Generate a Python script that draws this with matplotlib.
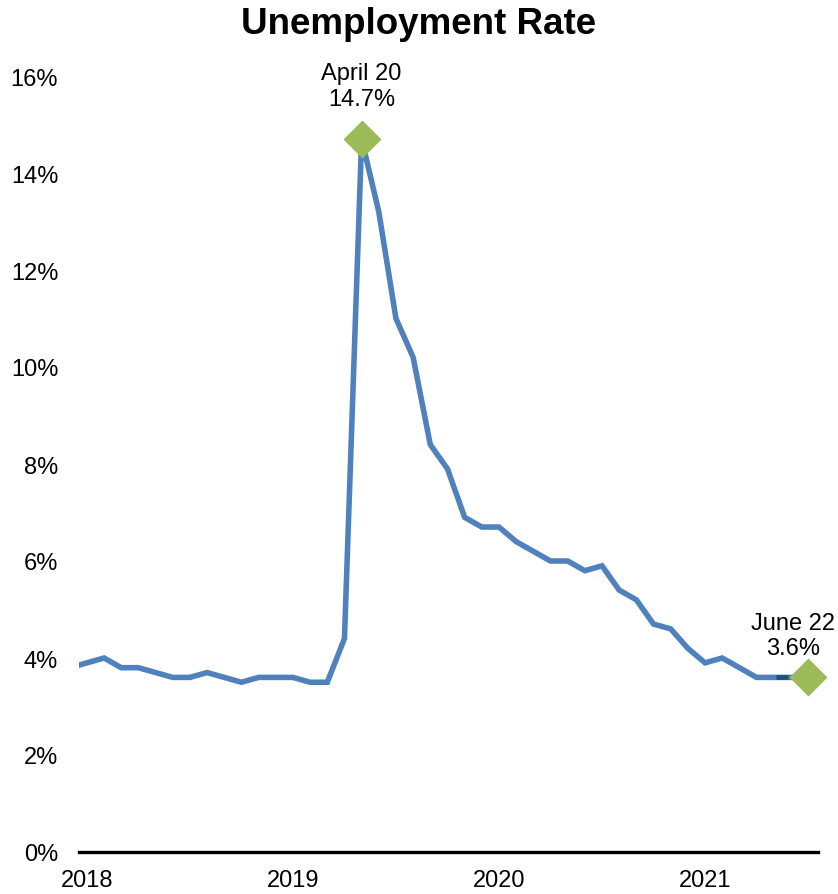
import numpy as np
import matplotlib.pyplot as plt

plt.rcParams['font.family'] = ['Liberation Sans', 'DejaVu Sans']

# Monthly unemployment rate, Nov 2018 .. Jun 2022 (index 0 = Jan 2019)
rates = [3.8, 3.9,
         4.0, 3.8, 3.8, 3.7, 3.6, 3.6, 3.7, 3.6, 3.5, 3.6, 3.6, 3.6,
         3.5, 3.5, 4.4, 14.7, 13.2, 11.0, 10.2, 8.4, 7.9, 6.9, 6.7, 6.7,
         6.4, 6.2, 6.0, 6.0, 5.8, 5.9, 5.4, 5.2, 4.7, 4.6, 4.2, 3.9,
         4.0, 3.8, 3.6, 3.6, 3.6, 3.6]
months = np.arange(len(rates)) - 2

year_ticks = [-1, 11, 23, 35]
year_labels = ['2018', '2019', '2020', '2021']

peak_idx = int(np.argmax(rates))
peak_label = 'April 20'
last_label = 'June 22'

line_color = '#4F81BD'
marker_color = '#9BBB59'

fig = plt.figure(figsize=(8.38, 8.95), dpi=100)
ax = fig.add_axes([79 / 838, 42 / 895, (818 - 79) / 838, (853 - 77) / 895])

ax.plot(months, rates, color=line_color, lw=4, solid_joinstyle='miter', zorder=2)

# short darker stretch on the flat tail
m = months[-3]
ax.plot([m + 0.15, m + 0.85], [rates[-3], rates[-2]], color='#1F4E79', lw=3.4,
        solid_capstyle='butt', zorder=3)

callouts = [(peak_idx, peak_label, (0, 21)),
            (len(rates) - 1, last_label, (-11, 13))]
for i, lab, offset in callouts:
    ax.plot(months[i], rates[i], marker='D', ms=19, color=marker_color,
            mec='none', zorder=4, clip_on=False)
    ax.annotate(f'{lab}\n{rates[i]:.1f}%', (months[i], rates[i]),
                xytext=offset, textcoords='offset points',
                ha='center', va='bottom', fontsize=17, linespacing=1.2)

ax.set_xlim(-1.46, 41.58)
ax.set_ylim(0, 16)
ax.set_yticks(np.arange(0, 17, 2))
ax.set_yticklabels([f'{v}%' for v in range(0, 17, 2)])
ax.set_xticks(year_ticks)
ax.set_xticklabels(year_labels)
ax.tick_params(axis='both', length=0, labelsize=17, colors='black')
ax.tick_params(axis='y', pad=15)
ax.tick_params(axis='x', pad=12)

for side in ['left', 'right', 'top']:
    ax.spines[side].set_visible(False)
ax.spines['bottom'].set_linewidth(2.4)
ax.spines['bottom'].set_color('black')

fig.text(0.5, 1 - 24 / 895, 'Unemployment Rate', ha='center', va='center',
         fontsize=26.5, fontweight='bold')

fig.savefig('out.png', dpi=100)
